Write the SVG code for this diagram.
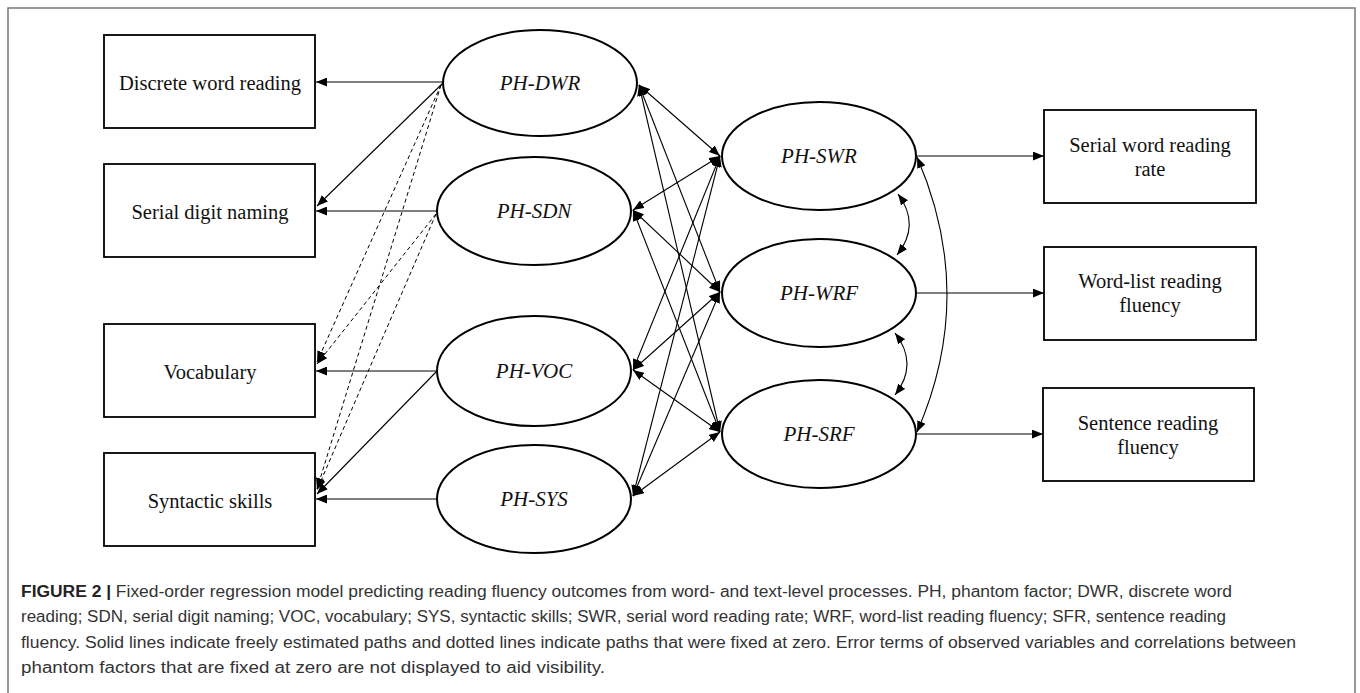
<svg xmlns="http://www.w3.org/2000/svg" width="1360" height="693" viewBox="0 0 1360 693">
<style>
.box{fill:#fff;stroke:#000;stroke-width:1.8}
.ell{fill:#fff;stroke:#000;stroke-width:2}
.bt{font-family:"Liberation Serif","Times New Roman",serif;font-size:20.5px;fill:#111;text-anchor:middle}
.et{font-family:"Liberation Serif","Times New Roman",serif;font-size:21px;font-style:italic;fill:#111;text-anchor:middle}
.ln{stroke:#000;stroke-width:1.1;fill:none}
.dl{stroke:#000;stroke-width:1;fill:none;stroke-dasharray:4 3}
.dbl{marker-start:url(#ah);marker-end:url(#ah)}
.one{marker-end:url(#ah)}
.cap{font-family:"Liberation Sans",Arial,sans-serif;font-size:16px;fill:#333}
.capb{font-weight:bold;fill:#222}
</style>
<defs>
<marker id="ah" viewBox="0 0 10 8" refX="10" refY="4" markerWidth="11" markerHeight="9" markerUnits="userSpaceOnUse" orient="auto-start-reverse">
<path d="M0,0 L10,4 L0,8 z" fill="#000"/>
</marker>
</defs>
<rect width="1360" height="693" fill="#fff"/>
<path d="M8,693 V8 H1355 V693" fill="none" stroke="#777" stroke-width="1.5"/>

<g id="connectors">
  <line class="ln one" x1="443" y1="82" x2="316" y2="82"/>
  <line class="ln one" x1="443" y1="83" x2="317" y2="206"/>
  <line class="ln one" x1="437" y1="211" x2="316" y2="211"/>
  <line class="ln one" x1="437" y1="371" x2="316" y2="371"/>
  <line class="ln one" x1="437" y1="371" x2="317" y2="494"/>
  <line class="ln one" x1="437" y1="499" x2="316" y2="499"/>
  <line class="dl one" x1="441" y1="85" x2="317" y2="362"/>
  <line class="dl one" x1="441" y1="85" x2="317" y2="489"/>
  <line class="dl one" x1="436" y1="214" x2="317" y2="364"/>
  <line class="dl one" x1="436" y1="214" x2="317" y2="490"/>
  <line class="ln dbl" x1="639" y1="85" x2="720" y2="156"/>
  <line class="ln dbl" x1="639" y1="85" x2="720" y2="292"/>
  <line class="ln dbl" x1="639" y1="85" x2="720" y2="432"/>
  <line class="ln dbl" x1="633" y1="210" x2="720" y2="156"/>
  <line class="ln dbl" x1="633" y1="210" x2="720" y2="292"/>
  <line class="ln dbl" x1="633" y1="210" x2="720" y2="432"/>
  <line class="ln dbl" x1="633" y1="370" x2="720" y2="156"/>
  <line class="ln dbl" x1="633" y1="370" x2="720" y2="292"/>
  <line class="ln dbl" x1="633" y1="370" x2="720" y2="432"/>
  <line class="ln dbl" x1="633" y1="496" x2="720" y2="156"/>
  <line class="ln dbl" x1="633" y1="496" x2="720" y2="292"/>
  <line class="ln dbl" x1="633" y1="496" x2="720" y2="432"/>
  <line class="ln one" x1="917" y1="156" x2="1044" y2="156"/>
  <line class="ln one" x1="917" y1="293" x2="1044" y2="293"/>
  <line class="ln one" x1="917" y1="434" x2="1043" y2="434"/>
  <path class="ln dbl" d="M898,194 Q921,225 897,255"/>
  <path class="ln dbl" d="M895,333 Q919,364 895,395"/>
  <path class="ln dbl" d="M917,157 Q977,295 917,432"/>
</g>

<g id="node-dwr"><rect class="box" x="104" y="35" width="211" height="93"/><text class="bt" x="210" y="90">Discrete word reading</text></g>
<g id="node-sdn"><rect class="box" x="104" y="164" width="211" height="93"/><text class="bt" x="210" y="219">Serial digit naming</text></g>
<g id="node-voc"><rect class="box" x="104" y="324" width="211" height="93"/><text class="bt" x="210" y="379">Vocabulary</text></g>
<g id="node-sys"><rect class="box" x="104" y="453" width="211" height="93"/><text class="bt" x="210" y="508">Syntactic skills</text></g>

<g id="node-ph-dwr"><ellipse class="ell" cx="540" cy="83" rx="97" ry="53"/><text class="et" x="540" y="90">PH-DWR</text></g>
<g id="node-ph-sdn"><ellipse class="ell" cx="534" cy="211" rx="97" ry="54"/><text class="et" x="534" y="218">PH-SDN</text></g>
<g id="node-ph-voc"><ellipse class="ell" cx="534" cy="371" rx="97" ry="55"/><text class="et" x="534" y="378">PH-VOC</text></g>
<g id="node-ph-sys"><ellipse class="ell" cx="534" cy="499" rx="97" ry="54"/><text class="et" x="534" y="506">PH-SYS</text></g>

<g id="node-ph-swr"><ellipse class="ell" cx="819" cy="156" rx="97" ry="54"/><text class="et" x="819" y="163">PH-SWR</text></g>
<g id="node-ph-wrf"><ellipse class="ell" cx="819" cy="293" rx="97" ry="54"/><text class="et" x="819" y="300">PH-WRF</text></g>
<g id="node-ph-srf"><ellipse class="ell" cx="819" cy="434" rx="97" ry="54"/><text class="et" x="819" y="441">PH-SRF</text></g>

<g id="node-swr"><rect class="box" x="1044" y="110" width="212" height="93"/><text class="bt" x="1150" y="152">Serial word reading</text><text class="bt" x="1150" y="176">rate</text></g>
<g id="node-wrf"><rect class="box" x="1044" y="247" width="212" height="93"/><text class="bt" x="1150" y="288">Word-list reading</text><text class="bt" x="1150" y="312">fluency</text></g>
<g id="node-srf"><rect class="box" x="1043" y="388" width="211" height="93"/><text class="bt" x="1148" y="430">Sentence reading</text><text class="bt" x="1148" y="454">fluency</text></g>

<g id="caption">
<text class="cap" x="21" y="597" textLength="1211" lengthAdjust="spacingAndGlyphs"><tspan class="capb">FIGURE 2 |</tspan> Fixed-order regression model predicting reading fluency outcomes from word- and text-level processes. PH, phantom factor; DWR, discrete word</text>
<text class="cap" x="21" y="622" textLength="1205" lengthAdjust="spacingAndGlyphs">reading; SDN, serial digit naming; VOC, vocabulary; SYS, syntactic skills; SWR, serial word reading rate; WRF, word-list reading fluency; SFR, sentence reading</text>
<text class="cap" x="21" y="648" textLength="1275" lengthAdjust="spacingAndGlyphs">fluency. Solid lines indicate freely estimated paths and dotted lines indicate paths that were fixed at zero. Error terms of observed variables and correlations between</text>
<text class="cap" x="21" y="673" textLength="584" lengthAdjust="spacingAndGlyphs">phantom factors that are fixed at zero are not displayed to aid visibility.</text>
</g>
</svg>
